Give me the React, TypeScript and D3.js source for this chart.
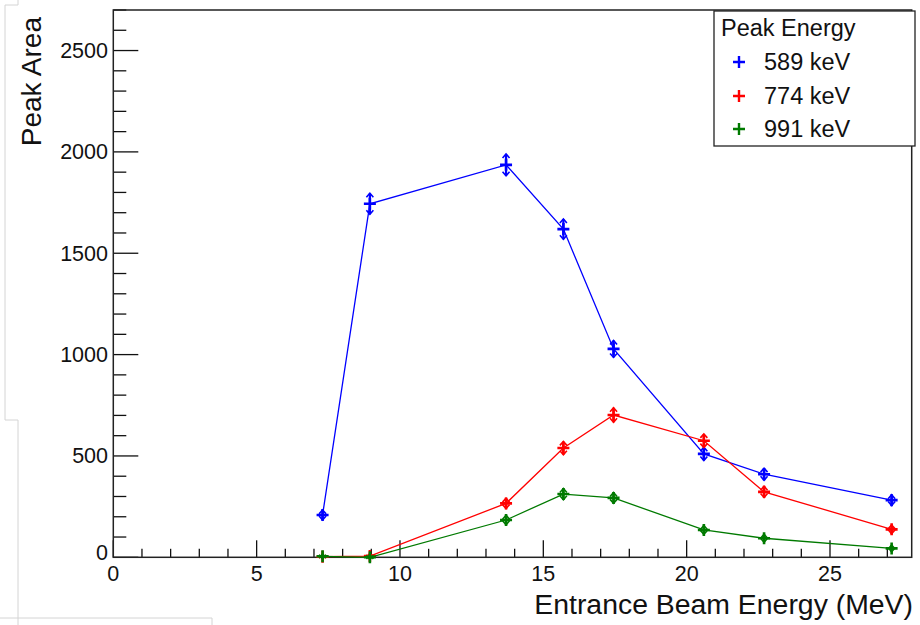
import React, { useEffect, useRef } from 'react';
import * as d3 from 'd3';

// beam energies (MeV)
const beamEnergy = [7.3, 8.95, 13.7, 15.7, 17.45, 20.6, 22.7, 27.15];

// peak areas per gamma line
const area589 = [209, 1744, 1936, 1619, 1028, 510, 410, 282];
const area774 = [3, 6, 266, 539, 702, 575, 323, 138];
const area991 = [5, 0, 184, 312, 293, 135, 94, 44];

const err589 = [15, 42, 44, 40, 32, 23, 20, 17];
const err774 = [2, 3, 16, 23, 26, 24, 18, 12];
const err991 = [2, 2, 14, 18, 17, 12, 10, 7];

const seriesNames = ['589 keV', '774 keV', '991 keV'];
const seriesColors = ['#0000ff', '#ff0000', '#007a00'];

const xTicks = [0, 5, 10, 15, 20, 25];
const yTicks = [0, 500, 1000, 1500, 2000, 2500];

const FONT = '"Liberation Sans", Arial, Helvetica, sans-serif';

function App() {
    const ref = useRef<SVGSVGElement>(null);
    const width = 920;
    const height = 625;
    const frame = { left: 113.3, right: 911.7, top: 10, bottom: 557.3 };

    useEffect(() => {
        const svg = d3.select(ref.current);
        svg.selectAll('*').remove();

        const x = d3.scaleLinear().domain([0, 27.85]).range([frame.left, frame.right]);
        const y = d3.scaleLinear().domain([0, 2700]).range([frame.bottom, frame.top]);

        svg.append('rect').attr('width', width).attr('height', height).attr('fill', '#fff');

        // faint screenshot edges
        svg.append('path')
            .attr('d', 'M5,5 L18,5 L18,0 M5,5 L5,420 L18,420 L18,625 M0,618 L212,618 L212,625')
            .attr('fill', 'none')
            .attr('stroke', '#d4d4d4')
            .attr('stroke-width', 1);

        const series = [
            { name: seriesNames[0], color: seriesColors[0], values: area589, errs: err589 },
            { name: seriesNames[1], color: seriesColors[1], values: area774, errs: err774 },
            { name: seriesNames[2], color: seriesColors[2], values: area991, errs: err991 },
        ];

        // ticks
        const axes = svg.append('g').attr('stroke', '#111').attr('stroke-width', 1.3);
        d3.range(0, 28, 1).forEach(v => {
            const major = v % 5 === 0;
            axes.append('line')
                .attr('x1', x(v)).attr('x2', x(v))
                .attr('y1', frame.bottom).attr('y2', frame.bottom - (major ? 17 : 8.5));
        });
        d3.range(0, 2701, 100).forEach(v => {
            const major = v % 500 === 0;
            axes.append('line')
                .attr('x1', frame.left).attr('x2', frame.left + (major ? 25 : 13))
                .attr('y1', y(v)).attr('y2', y(v));
        });

        // frame
        svg.append('rect')
            .attr('x', frame.left).attr('y', frame.top)
            .attr('width', frame.right - frame.left).attr('height', frame.bottom - frame.top)
            .attr('fill', 'none')
            .attr('stroke', '#222')
            .attr('stroke-width', 1.5);

        // tick labels
        svg.append('g').selectAll('text')
            .data(xTicks).enter().append('text')
            .attr('x', d => x(d))
            .attr('y', 581)
            .attr('text-anchor', 'middle')
            .style('font-family', FONT)
            .style('font-size', '21.5px')
            .attr('fill', '#111')
            .text(d => d);

        svg.append('g').selectAll('text')
            .data(yTicks).enter().append('text')
            .attr('x', 108)
            .attr('y', d => y(d) + 7.5 - (d === 0 ? 5 : 0))
            .attr('text-anchor', 'end')
            .style('font-family', FONT)
            .style('font-size', '21.5px')
            .attr('fill', '#111')
            .text(d => d);

        // axis titles
        svg.append('text')
            .attr('x', 913).attr('y', 614)
            .attr('text-anchor', 'end')
            .style('font-family', FONT)
            .style('font-size', '28.4px')
            .attr('fill', '#111')
            .text('Entrance Beam Energy (MeV)');

        svg.append('text')
            .attr('transform', 'translate(41,17) rotate(-90)')
            .attr('text-anchor', 'end')
            .style('font-family', FONT)
            .style('font-size', '28px')
            .attr('fill', '#111')
            .text('Peak Area');

        // data
        const line = d3.line<number>()
            .x((d, i) => x(beamEnergy[i]))
            .y(d => y(d));

        const plot = svg.append('g');
        series.forEach(s => {
            plot.append('path')
                .attr('d', line(s.values))
                .attr('fill', 'none')
                .attr('stroke', s.color)
                .attr('stroke-width', 1.3);

            const pts = plot.append('g')
                .attr('stroke', s.color)
                .attr('fill', 'none');

            s.values.forEach((v, i) => {
                const cx = x(beamEnergy[i]);
                const cy = y(v);
                const top = y(v + s.errs[i]);
                const bot = y(Math.max(0, v - s.errs[i]));
                // error bar with small diamond-ish caps
                pts.append('line')
                    .attr('x1', cx).attr('x2', cx)
                    .attr('y1', top - 2).attr('y2', bot + 2)
                    .attr('stroke-width', 2.2);
                pts.append('path')
                    .attr('d', `M${cx - 3.5},${top + 2} L${cx},${top - 2} L${cx + 3.5},${top + 2} M${cx - 3.5},${bot - 2} L${cx},${bot + 2} L${cx + 3.5},${bot - 2}`)
                    .attr('stroke-width', 1.6);
                // + marker
                pts.append('path')
                    .attr('d', `M${cx - 6},${cy} L${cx + 6},${cy} M${cx},${cy - 6} L${cx},${cy + 6}`)
                    .attr('stroke-width', 2.6);
            });
        });

        // legend
        const legend = svg.append('g');
        legend.append('rect')
            .attr('x', 714).attr('y', 11)
            .attr('width', 201).attr('height', 135)
            .attr('fill', '#fff')
            .attr('stroke', '#222')
            .attr('stroke-width', 1.3);

        legend.append('text')
            .attr('x', 721).attr('y', 36)
            .style('font-family', FONT)
            .style('font-size', '23.5px')
            .attr('fill', '#111')
            .text('Peak Energy');

        const rows = [62, 96, 129];
        series.forEach((s, i) => {
            const cy = rows[i];
            legend.append('path')
                .attr('d', `M733,${cy} L745,${cy} M739,${cy - 6} L739,${cy + 6}`)
                .attr('stroke', s.color)
                .attr('stroke-width', 2.4);
            legend.append('text')
                .attr('x', 764).attr('y', cy + 8)
                .style('font-family', FONT)
                .style('font-size', '23.5px')
                .attr('fill', '#111')
                .text(s.name);
        });
    }, []);

    return (
        <svg ref={ref} width={width} height={height}
            style={{ position: 'absolute', left: 0, top: 0, display: 'block' }} />
    );
}

export default App;
